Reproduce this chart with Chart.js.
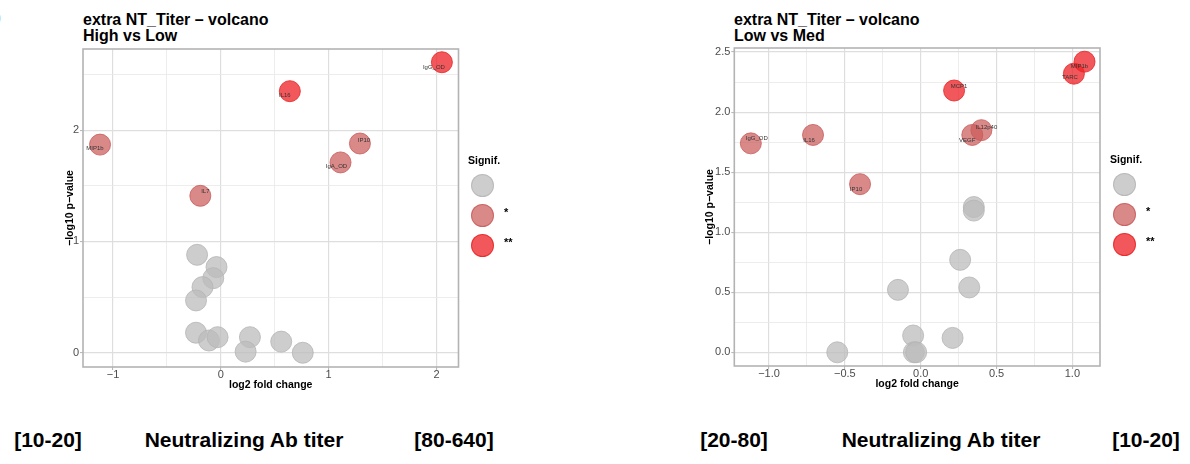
<!DOCTYPE html>
<html>
<head>
<meta charset="utf-8">
<script src="https://cdn.jsdelivr.net/npm/chart.js@4"></script>
<style>
  body { margin: 0; width: 1190px; height: 464px; background: #fff; position: relative; overflow: hidden;
         font-family: "Liberation Sans", Arial, Helvetica, sans-serif; color: #000; }
  canvas { position: absolute; top: 0; }
  .title { position: absolute; top: 12px; font-weight: bold; font-size: 16px; line-height: 16px; white-space: nowrap; }
  .legTitle { position: absolute; font-weight: bold; font-size: 10.5px; }
  .dot { position: absolute; width: 23px; height: 23px; border-radius: 50%; box-sizing: border-box; border: 1.5px solid; }
  .legTxt { position: absolute; font-size: 11px; font-weight: bold; }
  .foot { position: absolute; top: 428px; font-weight: bold; font-size: 21px; white-space: nowrap; transform: translateX(-50%); }
</style>
</head>
<body>
<div style="position:absolute;left:-6px;top:5px;font-size:21px;font-weight:bold;color:#000">)</div>

<div class="title" style="left:83px">extra NT_Titer – volcano<br>High vs Low</div>
<div class="title" style="left:734px">extra NT_Titer – volcano<br>Low vs Med</div>

<canvas id="hl" width="470" height="400" style="left:0"></canvas>
<canvas id="lm" width="440" height="400" style="left:680px"></canvas>

<div id="legHL"></div>
<div id="legLM"></div>

<div class="foot" style="left:48px">[10-20]</div>
<div class="foot" style="left:244px">Neutralizing Ab titer</div>
<div class="foot" style="left:454px">[80-640]</div>
<div class="foot" style="left:734px">[20-80]</div>
<div class="foot" style="left:941px">Neutralizing Ab titer</div>
<div class="foot" style="left:1146px">[10-20]</div>

<script>
// ---- High vs Low ----
const hlGene    = ['IgG_OD', 'IL16', 'MIP1b', 'IP10', 'IgA_OD', 'IL7',
                   null, null, null, null, null, null, null, null, null, null, null, null];
const hlLog2FC  = [2.05, 0.64, -1.12, 1.29, 1.11, -0.19,
                   -0.22, -0.04, -0.07, -0.17, -0.23, -0.23, -0.11, -0.03, 0.27, 0.23, 0.56, 0.76];
const hlNegLogP = [2.61, 2.35, 1.87, 1.88, 1.71, 1.41,
                   0.88, 0.77, 0.67, 0.59, 0.47, 0.18, 0.11, 0.14, 0.14, 0.01, 0.10, 0.00];
const hlSignif  = ['**', '**', '*', '*', '*', '*',
                   'ns', 'ns', 'ns', 'ns', 'ns', 'ns', 'ns', 'ns', 'ns', 'ns', 'ns', 'ns'];
const hlXTicks  = [-1, 0, 1, 2];
const hlYTicks  = [0, 1, 2];

// ---- Low vs Med ----
const lmGene    = ['MIP1b', 'TARC', 'MCP1', 'IL12p40', 'VEGF', 'IgG_OD', 'IL16', 'IP10',
                   null, null, null, null, null, null, null, null, null, null];
const lmLog2FC  = [1.08, 1.01, 0.22, 0.40, 0.34, -1.12, -0.71, -0.40,
                   0.35, 0.35, 0.26, 0.32, -0.15, -0.05, 0.21, -0.55, -0.045, -0.03];
const lmNegLogP = [2.42, 2.32, 2.18, 1.85, 1.81, 1.74, 1.81, 1.40,
                   1.21, 1.18, 0.77, 0.54, 0.52, 0.14, 0.12, 0.00, 0.00, 0.00];
const lmSignif  = ['**', '**', '**', '*', '*', '*', '*', '*',
                   'ns', 'ns', 'ns', 'ns', 'ns', 'ns', 'ns', 'ns', 'ns', 'ns'];
const lmXTicks  = [-1.0, -0.5, 0.0, 0.5, 1.0];
const lmYTicks  = [0.0, 0.5, 1.0, 1.5, 2.0, 2.5];

const signifLevels = ['ns', '*', '**'];
const signifFill   = { 'ns': 'rgba(188,188,188,0.75)', '*': 'rgba(204,92,92,0.72)', '**': 'rgba(238,32,36,0.75)' };
const signifEdge   = { 'ns': 'rgba(180,180,180,0.8)',  '*': 'rgba(200,90,90,0.8)',  '**': 'rgba(232,40,40,0.85)' };

Chart.defaults.font.family = '"Liberation Sans", Arial, Helvetica, sans-serif';
Chart.defaults.animation = false;

// cadre du panneau + etiquettes des genes
const panelPlugin = {
  id: 'panel',
  afterDatasetsDraw(chart, args, opts) {
    const { ctx, chartArea: a } = chart;
    ctx.save();
    ctx.font = '6px "Liberation Sans", Arial, sans-serif';
    ctx.fillStyle = '#333';
    ctx.textAlign = 'center';
    ctx.textBaseline = 'middle';
    chart.data.datasets.forEach((ds, di) => {
      chart.getDatasetMeta(di).data.forEach((pt, i) => {
        const gene = ds.data[i].gene;
        if (!gene) return;
        const n = opts.nudge[gene] || [0, 0];
        ctx.fillText(gene, pt.x + n[0], pt.y + n[1]);
      });
    });
    ctx.strokeStyle = '#b3b3b3';
    ctx.lineWidth = 1.6;
    ctx.strokeRect(a.left, a.top, a.right - a.left, a.bottom - a.top);
    ctx.restore();
  }
};

function isMajor(v, list) {
  return list.some(t => Math.abs(t - v) < 1e-6);
}

function buildDatasets(gene, fc, p, sig) {
  return signifLevels.map(level => ({
    label: level,
    data: fc.map((x, i) => ({ x: x, y: p[i], gene: gene[i], s: sig[i] })).filter(d => d.s === level),
    backgroundColor: signifFill[level],
    borderColor: signifEdge[level],
    borderWidth: 1,
    pointRadius: 10.5,
    pointHoverRadius: 10.5,
    clip: false
  }));
}

function makeVolcano(id, cfg) {
  const ticksFont = { size: 11 };
  const gridFor = list => ({
    color: c => isMajor(c.tick.value, list) ? '#dedede' : '#e8e8e8',
    lineWidth: c => isMajor(c.tick.value, list) ? 1.2 : 0.8,
    drawTicks: true,
    tickLength: 3,
    tickWidth: 1,
    tickColor: c => isMajor(c.tick.value, list) ? '#b3b3b3' : 'rgba(0,0,0,0)'
  });
  return new Chart(document.getElementById(id), {
    type: 'scatter',
    data: { datasets: buildDatasets(cfg.gene, cfg.fc, cfg.p, cfg.sig) },
    options: {
      responsive: false,
      layout: { padding: cfg.padding },
      plugins: {
        legend: { display: false },
        tooltip: { enabled: false },
        panel: { nudge: cfg.nudge }
      },
      scales: {
        x: {
          type: 'linear',
          min: cfg.xRange[0], max: cfg.xRange[1],
          afterFit: s => { s.height = cfg.xAxisH; },
          border: { display: false },
          grid: gridFor(cfg.xTicks),
          ticks: {
            stepSize: cfg.xStep, includeBounds: false, autoSkip: false, maxRotation: 0,
            padding: -2, color: '#4d4d4d', font: ticksFont,
            callback: v => isMajor(v, cfg.xTicks) ? cfg.fmt(v) : ''
          },
          title: { display: true, text: 'log2 fold change', color: '#000', padding: 0,
                   font: { size: 10.5, weight: 'bold' } }
        },
        y: {
          type: 'linear',
          min: cfg.yRange[0], max: cfg.yRange[1],
          afterFit: s => { s.width = cfg.yAxisW; },
          border: { display: false },
          grid: gridFor(cfg.yTicks),
          ticks: {
            stepSize: cfg.yStep, includeBounds: false, autoSkip: false,
            padding: 1, color: '#4d4d4d', font: ticksFont,
            callback: v => isMajor(v, cfg.yTicks) ? cfg.fmt(v) : ''
          },
          title: { display: true, text: '\u2212log10 p\u2212value', color: '#000', padding: 0,
                   font: { size: 10.5, weight: 'bold' } }
        }
      }
    },
    plugins: [panelPlugin]
  });
}

const minus = s => s.replace('-', '\u2212');

makeVolcano('hl', {
  gene: hlGene, fc: hlLog2FC, p: hlNegLogP, sig: hlSignif,
  xTicks: hlXTicks, yTicks: hlYTicks, xStep: 0.5, yStep: 0.5,
  xRange: [-1.278, 2.204], yRange: [-0.128, 2.729],
  padding: { left: 64, top: 49, right: 11, bottom: 9 },
  yAxisW: 19, xAxisH: 24,
  fmt: v => minus(String(Math.round(v))),
  nudge: { IgG_OD: [-8, 5], IL16: [-5, 4], MIP1b: [-5, 4], IP10: [4, -3], IgA_OD: [-4, 4], IL7: [5, -4] }
});

makeVolcano('lm', {
  gene: lmGene, fc: lmLog2FC, p: lmNegLogP, sig: lmSignif,
  xTicks: lmXTicks, yTicks: lmYTicks, xStep: 0.25, yStep: 0.25,
  xRange: [-1.229, 1.182], yRange: [-0.114, 2.534],
  padding: { left: 24, top: 48, right: 20, bottom: 10 },
  yAxisW: 30.3, xAxisH: 24,
  fmt: v => minus(v.toFixed(1)),
  nudge: { MIP1b: [-5, 5], TARC: [-4, 4], MCP1: [5, -4], IL12p40: [5, -3], VEGF: [-5, 5],
           IgG_OD: [6, -5], IL16: [-4, 5], IP10: [-4, 5] }
});

// legende "Signif."
function drawLegend(holderId, x, y) {
  const holder = document.getElementById(holderId);
  const labels = { 'ns': '', '*': '*', '**': '**' };
  let html = `<div class="legTitle" style="left:${x}px;top:${y}px">Signif.</div>`;
  signifLevels.forEach((lvl, i) => {
    const cy = y + 31 + i * 30;
    html += `<div class="dot" style="left:${x + 3}px;top:${cy - 11.5}px;background:${signifFill[lvl]};border-color:${signifEdge[lvl]}"></div>`;
    if (labels[lvl]) html += `<div class="legTxt" style="left:${x + 36}px;top:${cy - 9}px">${labels[lvl]}</div>`;
  });
  holder.innerHTML = html;
}
drawLegend('legHL', 468, 154);
drawLegend('legLM', 1110, 153);
</script>
</body>
</html>
